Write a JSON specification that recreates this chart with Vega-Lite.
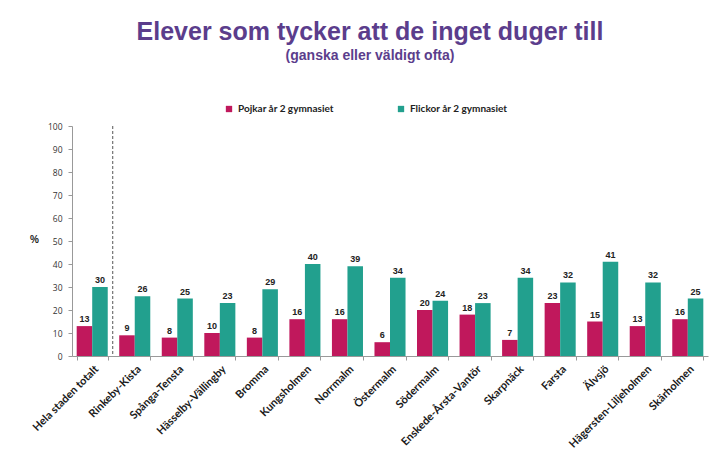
{
  "$schema": "https://vega.github.io/schema/vega-lite/v6.json",
  "width": 636,
  "height": 230,
  "autosize": {"type": "none"},
  "padding": {"left": 72, "top": 126, "right": 2, "bottom": 109},
  "background": "white",
  "title": {
    "text": "Elever som tycker att de inget duger till",
    "subtitle": "(ganska eller väldigt ofta)",
    "font": "Liberation Sans",
    "fontSize": 25,
    "fontWeight": "bold",
    "color": "#5B3D8C",
    "subtitleFont": "Liberation Sans",
    "subtitleFontSize": 14,
    "subtitleFontWeight": "bold",
    "subtitleColor": "#5B3D8C",
    "subtitlePadding": 4,
    "anchor": "middle",
    "dx": -20,
    "offset": 41
  },
  "config": {"view": {"stroke": null}},
  "layer": [
    {
      "data": {
        "values": [
          {"district": "Hela staden totalt", "gender": "Pojkar år 2 gymnasiet", "value": 13},
          {"district": "Hela staden totalt", "gender": "Flickor år 2 gymnasiet", "value": 30},
          {"district": "Rinkeby-Kista", "gender": "Pojkar år 2 gymnasiet", "value": 9},
          {"district": "Rinkeby-Kista", "gender": "Flickor år 2 gymnasiet", "value": 26},
          {"district": "Spånga-Tensta", "gender": "Pojkar år 2 gymnasiet", "value": 8},
          {"district": "Spånga-Tensta", "gender": "Flickor år 2 gymnasiet", "value": 25},
          {"district": "Hässelby-Vällingby", "gender": "Pojkar år 2 gymnasiet", "value": 10},
          {"district": "Hässelby-Vällingby", "gender": "Flickor år 2 gymnasiet", "value": 23},
          {"district": "Bromma", "gender": "Pojkar år 2 gymnasiet", "value": 8},
          {"district": "Bromma", "gender": "Flickor år 2 gymnasiet", "value": 29},
          {"district": "Kungsholmen", "gender": "Pojkar år 2 gymnasiet", "value": 16},
          {"district": "Kungsholmen", "gender": "Flickor år 2 gymnasiet", "value": 40},
          {"district": "Norrmalm", "gender": "Pojkar år 2 gymnasiet", "value": 16},
          {"district": "Norrmalm", "gender": "Flickor år 2 gymnasiet", "value": 39},
          {"district": "Östermalm", "gender": "Pojkar år 2 gymnasiet", "value": 6},
          {"district": "Östermalm", "gender": "Flickor år 2 gymnasiet", "value": 34},
          {"district": "Södermalm", "gender": "Pojkar år 2 gymnasiet", "value": 20},
          {"district": "Södermalm", "gender": "Flickor år 2 gymnasiet", "value": 24},
          {"district": "Enskede-Årsta-Vantör", "gender": "Pojkar år 2 gymnasiet", "value": 18},
          {"district": "Enskede-Årsta-Vantör", "gender": "Flickor år 2 gymnasiet", "value": 23},
          {"district": "Skarpnäck", "gender": "Pojkar år 2 gymnasiet", "value": 7},
          {"district": "Skarpnäck", "gender": "Flickor år 2 gymnasiet", "value": 34},
          {"district": "Farsta", "gender": "Pojkar år 2 gymnasiet", "value": 23},
          {"district": "Farsta", "gender": "Flickor år 2 gymnasiet", "value": 32},
          {"district": "Älvsjö", "gender": "Pojkar år 2 gymnasiet", "value": 15},
          {"district": "Älvsjö", "gender": "Flickor år 2 gymnasiet", "value": 41},
          {"district": "Hägersten-Liljeholmen", "gender": "Pojkar år 2 gymnasiet", "value": 13},
          {"district": "Hägersten-Liljeholmen", "gender": "Flickor år 2 gymnasiet", "value": 32},
          {"district": "Skärholmen", "gender": "Pojkar år 2 gymnasiet", "value": 16},
          {"district": "Skärholmen", "gender": "Flickor år 2 gymnasiet", "value": 25}
        ]
      },
      "layer": [
        {
          "mark": {"type": "bar"},
          "encoding": {
            "color": {
              "field": "gender",
              "type": "nominal",
              "sort": ["Pojkar år 2 gymnasiet", "Flickor år 2 gymnasiet"],
              "scale": {"domain": ["Pojkar år 2 gymnasiet", "Flickor år 2 gymnasiet"], "range": ["#C0185C", "#22A08E"]},
              "legend": {
                "orient": "none",
                "legendX": 152,
                "legendY": -22,
                "direction": "horizontal",
                "title": null,
                "symbolType": "square",
                "symbolSize": 40,
                "symbolStrokeWidth": 0,
                "labelFont": "Lato",
                "labelFontSize": 10,
                "labelFontWeight": "bold",
                "labelColor": "#222",
                "columnPadding": 62
              }
            }
          }
        },
        {
          "mark": {"type": "text", "dy": -7, "font": "Liberation Sans", "fontSize": 9, "fontWeight": "bold", "color": "#222"},
          "encoding": {"text": {"field": "value", "type": "quantitative"}}
        }
      ],
      "encoding": {
        "x": {
          "field": "district",
          "type": "nominal",
          "sort": null,
          "scale": {"paddingInner": 0.27, "paddingOuter": 0.11},
          "axis": {
            "title": null,
            "labelAngle": -45,
            "labelFont": "Lato",
            "labelFontSize": 11,
            "labelFontWeight": "bold",
            "labelColor": "#1a1a1a",
            "domainColor": "#999",
            "tickColor": "#999",
            "tickBand": "extent",
            "tickSize": 4,
            "labelPadding": 3
          }
        },
        "xOffset": {
          "field": "gender",
          "type": "nominal",
          "sort": ["Pojkar år 2 gymnasiet", "Flickor år 2 gymnasiet"]
        },
        "y": {
          "field": "value",
          "type": "quantitative",
          "scale": {"domain": [0, 100], "nice": false},
          "axis": {
            "values": [0, 10, 20, 30, 40, 50, 60, 70, 80, 90, 100],
            "labelOverlap": false,
            "grid": false,
            "title": "%",
            "titleAngle": 0,
            "titleX": -38,
            "titleY": 118,
            "titleFont": "Liberation Sans",
            "titleFontSize": 10,
            "titleFontWeight": "bold",
            "titleColor": "#222",
            "labelFont": "Open Sans",
            "labelFontSize": 8.5,
            "labelColor": "#333",
            "domainColor": "#999",
            "tickColor": "#999",
            "tickSize": 4,
            "labelPadding": 6
          }
        }
      }
    },
    {
      "data": {"values": [{"district": "Hela staden totalt", "value": 100, "bottom": 0}]},
      "mark": {"type": "rule", "strokeDash": [3, 2], "color": "#555", "strokeWidth": 1, "xOffset": 5},
      "encoding": {
        "x": {"field": "district", "type": "nominal", "sort": null, "bandPosition": 1},
        "y": {
          "field": "value",
          "type": "quantitative",
          "scale": {"domain": [0, 100], "nice": false},
          "axis": {
            "values": [0, 10, 20, 30, 40, 50, 60, 70, 80, 90, 100],
            "labelOverlap": false,
            "grid": false,
            "title": "%",
            "titleAngle": 0,
            "titleX": -38,
            "titleY": 118,
            "titleFont": "Liberation Sans",
            "titleFontSize": 10,
            "titleFontWeight": "bold",
            "titleColor": "#222",
            "labelFont": "Open Sans",
            "labelFontSize": 8.5,
            "labelColor": "#333",
            "domainColor": "#999",
            "tickColor": "#999",
            "tickSize": 4,
            "labelPadding": 6
          }
        },
        "y2": {"field": "bottom"}
      }
    }
  ]
}
